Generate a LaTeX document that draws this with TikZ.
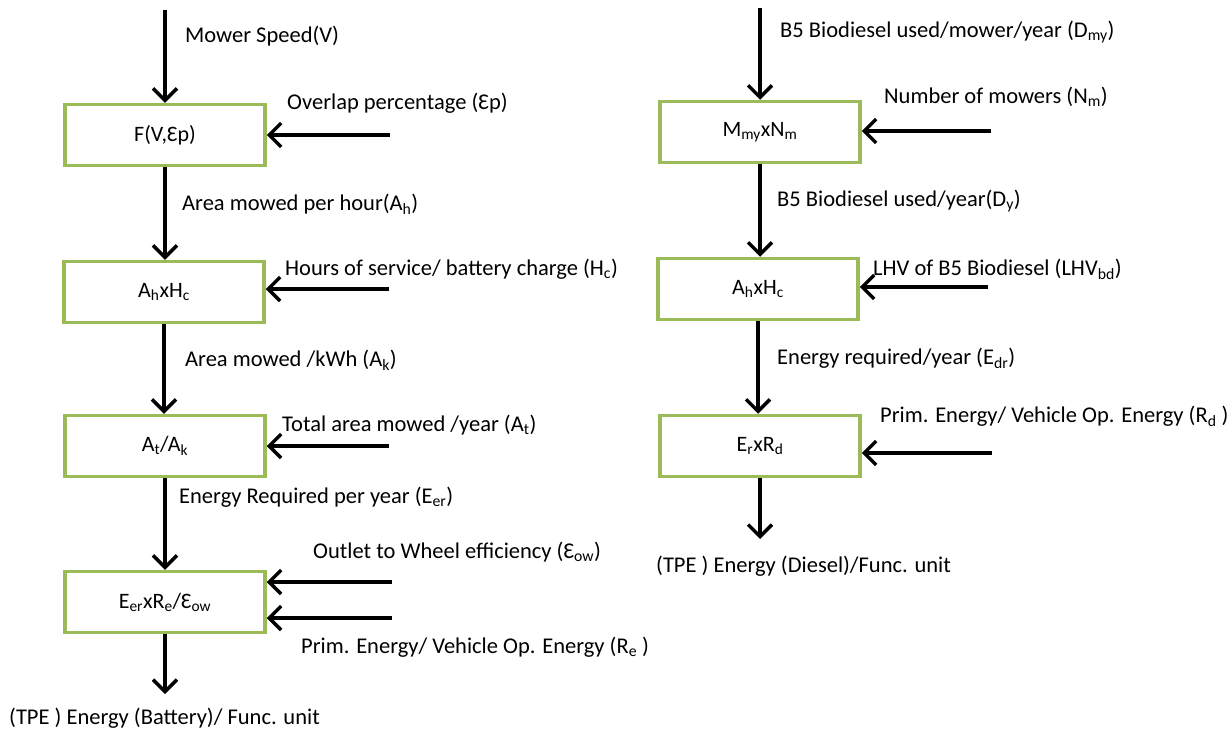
\documentclass[tikz,border=0pt]{standalone}
\usepackage{fontspec}
\setmainfont{Carlito}
\usetikzlibrary{arrows.meta}
\definecolor{boxgreen}{HTML}{9BBB59}
\newcommand{\sbs}[1]{\textsubscript{#1}}
\begin{document}
\begin{tikzpicture}[x=1pt,y=-1pt,
  box/.style={draw=boxgreen,line width=3.5pt,minimum width=200pt,minimum height=61pt,inner sep=0pt,font=\fontsize{22}{24}\selectfont},
  arr/.style={line width=3.5pt,-{Straight Barb[length=12pt,width=24pt,line width=3.5pt]}},
  lbl/.style={anchor=west,inner sep=0pt,font=\fontsize{22.5}{24}\selectfont}]
\useasboundingbox (0,0) rectangle (1229,731);
% left column
\node[box] (b1) at (165,135) {F(V,Ɛp)};
\node[box] (b2) at (164,292) {A\sbs{h}xH\sbs{c}};
\node[box] (b3) at (165,446) {A\sbs{t}/A\sbs{k}};
\node[box] (b4) at (165,602) {E\sbs{er}xR\sbs{e}/Ɛ\sbs{ow}};
\coordinate (t1) at (165,10);
\coordinate (e1) at (165,694);
\coordinate (s1) at (390,135);
\coordinate (s2) at (389,289);
\coordinate (s3) at (389,446);
\coordinate (s4a) at (392,582);
\coordinate (s4b) at (392,618);
\draw[arr] (t1) -- (b1.north);
\draw[arr] (b1.south) -- (b1.south |- b2.north);
\draw[arr] (b2.south) -- (b2.south |- b3.north);
\draw[arr] (b3.south) -- (b3.south |- b4.north);
\draw[arr] (b4.south) -- (e1);
\draw[arr] (s1) -- (s1 -| b1.east);
\draw[arr] (s2) -- (s2 -| b2.east);
\draw[arr] (s3) -- (s3 -| b3.east);
\draw[arr] (s4a) -- (s4a -| b4.east);
\draw[arr] (s4b) -- (s4b -| b4.east);
\node[lbl] (l0) at (185,36) {Mower Speed(V)};
\node[lbl] (l1) at (287,103) {Overlap percentage (Ɛp)};
\node[lbl] (l2) at (182,204) {Area mowed per hour(A\sbs{h})};
\node[lbl] (l3) at (285,269) {Hours of service/ battery charge (H\sbs{c})};
\node[lbl] (l4) at (185,360) {Area mowed /kWh (A\sbs{k})};
\node[lbl] (l5) at (282,425) {Total area mowed /year (A\sbs{t})};
\node[lbl] (l6) at (179,497) {Energy Required per year (E\sbs{er})};
\node[lbl] (l7) at (313,552) {Outlet to Wheel efficiency (Ɛ\sbs{ow})};
\node[lbl] (l8) at (301,647) {Prim. Energy/ Vehicle Op. Energy (R\sbs{e} )};
\node[lbl] (l9) at (9,718) {(TPE ) Energy (Battery)/ Func. unit};
% right column
\node[box] (c1) at (760,132) {M\sbs{my}xN\sbs{m}};
\node[box] (c2) at (758,289) {A\sbs{h}xH\sbs{c}};
\node[box] (c3) at (760,446) {E\sbs{r}xR\sbs{d}};
\coordinate (t2) at (760,8);
\coordinate (e2) at (760,539);
\coordinate (r1) at (991,131);
\coordinate (r2) at (988,287);
\coordinate (r3) at (992,453);
\draw[arr] (t2) -- (c1.north);
\draw[arr] (c1.south) -- (c1.south |- c2.north);
\draw[arr] (c2.south) -- (c2.south |- c3.north);
\draw[arr] (c3.south) -- (e2);
\draw[arr] (r1) -- (r1 -| c1.east);
\draw[arr] (r2) -- (r2 -| c2.east);
\draw[arr] (r3) -- (r3 -| c3.east);
\node[lbl] (m0) at (780,32) {B5 Biodiesel used/mower/year (D\sbs{my})};
\node[lbl] (m1) at (884,97) {Number of mowers (N\sbs{m})};
\node[lbl] (m2) at (777,201) {B5 Biodiesel used/year(D\sbs{y})};
\node[lbl] (m3) at (873,269) {LHV of B5 Biodiesel (LHV\sbs{bd})};
\node[lbl] (m4) at (777,358) {Energy required/year (E\sbs{dr})};
\node[lbl] (m5) at (880,416) {Prim. Energy/ Vehicle Op. Energy (R\sbs{d} )};
\node[lbl] (m6) at (656,566) {(TPE ) Energy (Diesel)/Func. unit};
\end{tikzpicture}
\end{document}
